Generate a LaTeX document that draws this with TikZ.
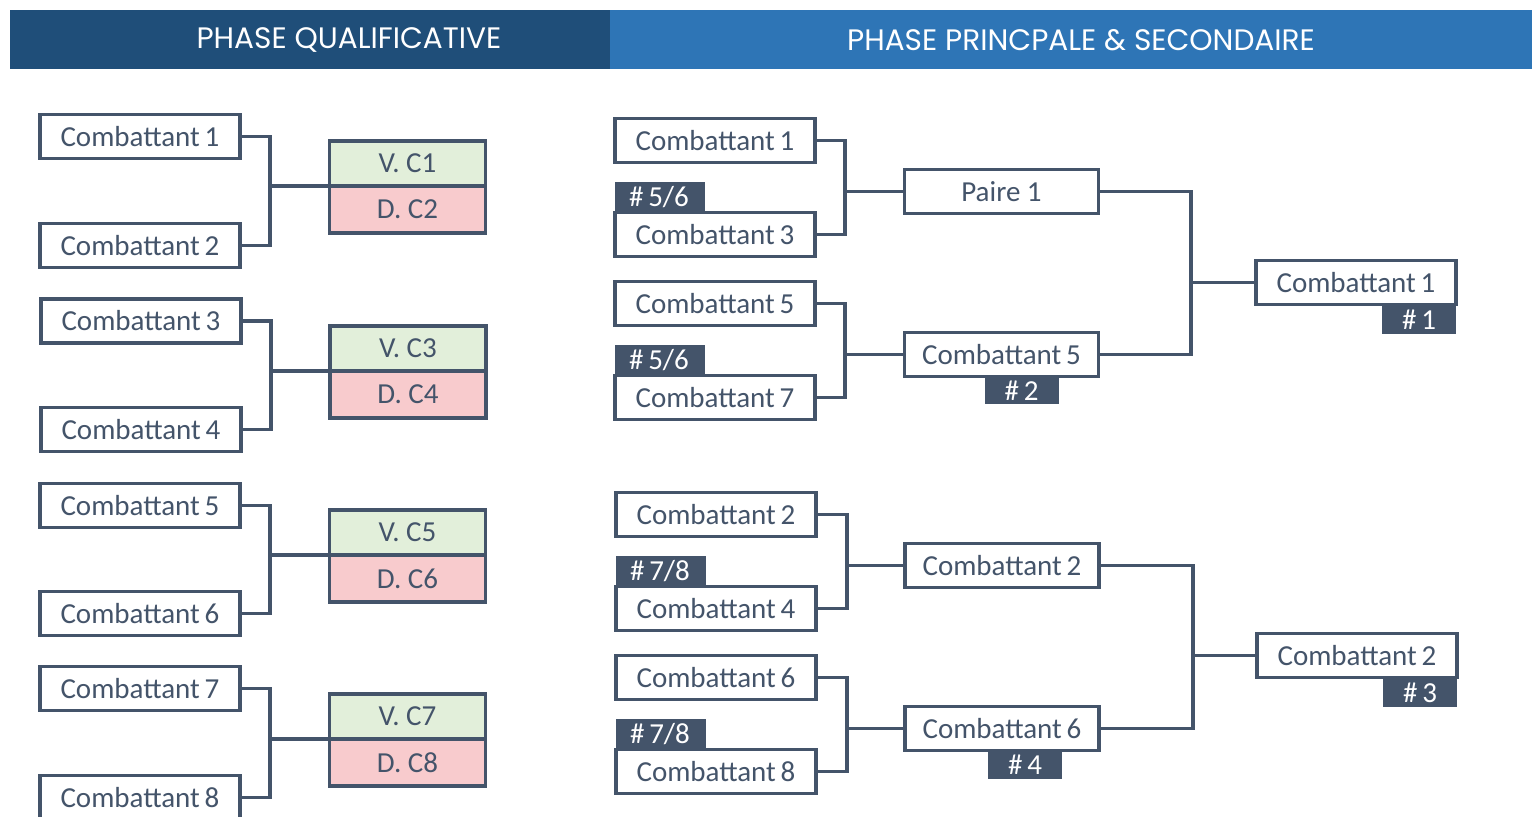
\documentclass[tikz,border=0pt]{standalone}
\usepackage{fontspec}
\setmainfont{Carlito}
\newfontfamily\headfont{Poppins}
\usetikzlibrary{positioning}
\definecolor{slate}{HTML}{44546A}
\definecolor{navyband}{HTML}{1F4E79}
\definecolor{blueband}{HTML}{2E75B6}
\definecolor{wingreen}{HTML}{E2EFDA}
\definecolor{losspink}{HTML}{F8CBCD}

\tikzset{
  fighter/.style={draw=slate, line width=1.6pt, fill=white, text=slate, inner sep=0pt, outer sep=0pt,
    minimum width=100pt, minimum height=22pt, font=\fontsize{14.5}{16}\selectfont},
  winbox/.style={fighter, fill=wingreen, minimum width=78pt, minimum height=22.5pt},
  lossbox/.style={fighter, fill=losspink, minimum width=78pt, minimum height=23.5pt},
  rank/.style={fill=slate, text=white, inner sep=0pt, outer sep=0pt, minimum height=15pt,
    font=\fontsize{14.5}{16}\selectfont},
  seed/.style={rank, inner xsep=7pt, text width=31pt, align=left, anchor=south west},
  link/.style={draw=slate, line width=1.6pt},
  bandtext/.style={text=white, font=\headfont\fontsize{14.8}{17}\selectfont}
}

\begin{document}
\begin{tikzpicture}[x=0.5pt, y=-0.5pt]
  \useasboundingbox (0,0) rectangle (1532,817);
  \clip (0,0) rectangle (1532,817);

  \fill[navyband] (10,10) rectangle (610,69);
  \fill[blueband] (610,10) rectangle (1532,69);
  \node[bandtext] (qualif) at (349,40) {PHASE QUALIFICATIVE};
  \node[bandtext] (princ) at (1081,40) {PHASE PRINCPALE \& SECONDAIRE};

  % phase qualificative
  \node[fighter] (q1) at (140,136.5) {Combattant\,1};
  \node[fighter] (q2) at (140,245.5) {Combattant\,2};
  \node[fighter] (q3) at (141,321) {Combattant\,3};
  \node[fighter] (q4) at (141,429.5) {Combattant\,4};
  \node[fighter] (q5) at (140,505.5) {Combattant\,5};
  \node[fighter] (q6) at (140,613.5) {Combattant\,6};
  \node[fighter] (q7) at (140,688.5) {Combattant\,7};
  \node[fighter] (q8) at (140,797.5) {Combattant\,8};

  \node[winbox] (v1) at (407.5,163.5) {V. C1};
  \node[lossbox, below=0pt of v1] (d1) {D. C2};
  \node[winbox] (v2) at (408,348.5) {V. C3};
  \node[lossbox, below=0pt of v2] (d2) {D. C4};
  \node[winbox] (v3) at (407.5,532.5) {V. C5};
  \node[lossbox, below=0pt of v3] (d3) {D. C6};
  \node[winbox] (v4) at (407.5,716.5) {V. C7};
  \node[lossbox, below=0pt of v4] (d4) {D. C8};

  \coordinate (j1) at (270,186);
  \coordinate (j2) at (271,371);
  \coordinate (j3) at (270,555);
  \coordinate (j4) at (270,739);
  \draw[link] (q1.east) -| (j1) |- (q2.east);
  \draw[link] (j1) -- (j1 -| v1.west);
  \draw[link] (q3.east) -| (j2) |- (q4.east);
  \draw[link] (j2) -- (j2 -| v2.west);
  \draw[link] (q5.east) -| (j3) |- (q6.east);
  \draw[link] (j3) -- (j3 -| v3.west);
  \draw[link] (q7.east) -| (j4) |- (q8.east);
  \draw[link] (j4) -- (j4 -| v4.west);

  % phase principale
  \node[fighter] (r1) at (715,140.5) {Combattant\,1};
  \node[fighter] (r3) at (715,234.5) {Combattant\,3};
  \node[fighter] (r5) at (715,303.5) {Combattant\,5};
  \node[fighter] (r7) at (715,397.5) {Combattant\,7};
  \node[fighter] (r2) at (716,514.5) {Combattant\,2};
  \node[fighter] (r4) at (716,608.5) {Combattant\,4};
  \node[fighter] (r6) at (716,677.5) {Combattant\,6};
  \node[fighter] (r8) at (716,771.5) {Combattant\,8};

  \node[seed] (t3) at (r3.north west) {\#\,5/6};
  \node[seed] (t7) at (r7.north west) {\#\,5/6};
  \node[seed] (t4) at (r4.north west) {\#\,7/8};
  \node[seed] (t8) at (r8.north west) {\#\,7/8};

  \node[fighter, minimum width=97pt] (s1) at (1001.5,191.5) {Paire 1};
  \node[fighter, minimum width=97pt] (s5) at (1001.5,354.5) {Combattant\,5};
  \node[fighter, minimum width=97pt] (s2) at (1002,565.5) {Combattant\,2};
  \node[fighter, minimum width=97pt] (s6) at (1002,728.5) {Combattant\,6};
  \node[rank, minimum width=37pt, minimum height=14pt, below left=0pt and 20pt of s5.south east] (u2) {\#\,2};
  \node[rank, minimum width=37pt, minimum height=14pt, below left=0pt and 18.5pt of s6.south east] (u4) {\#\,4};

  \node[fighter] (f1) at (1356,282.5) {Combattant\,1};
  \node[fighter] (f2) at (1357,655.5) {Combattant\,2};
  \node[rank, minimum width=37pt, below left=0pt and 0pt of f1.south east] (w1) {\#\,1};
  \node[rank, minimum width=37pt, below left=0pt and 0pt of f2.south east] (w3) {\#\,3};

  \coordinate (k1) at (845,191.5);
  \coordinate (k2) at (845,354.5);
  \coordinate (k3) at (847,565.5);
  \coordinate (k4) at (847,728.5);
  \coordinate (m1) at (1191,282.5);
  \coordinate (m2) at (1193,655.5);
  \draw[link] (r1.east) -| (k1) |- (r3.east);
  \draw[link] (k1) -- (s1.west);
  \draw[link] (r5.east) -| (k2) |- (r7.east);
  \draw[link] (k2) -- (s5.west);
  \draw[link] (r2.east) -| (k3) |- (r4.east);
  \draw[link] (k3) -- (s2.west);
  \draw[link] (r6.east) -| (k4) |- (r8.east);
  \draw[link] (k4) -- (s6.west);
  \draw[link] (s1.east) -| (m1) |- (s5.east);
  \draw[link] (m1) -- (f1.west);
  \draw[link] (s2.east) -| (m2) |- (s6.east);
  \draw[link] (m2) -- (f2.west);
\end{tikzpicture}
\end{document}
